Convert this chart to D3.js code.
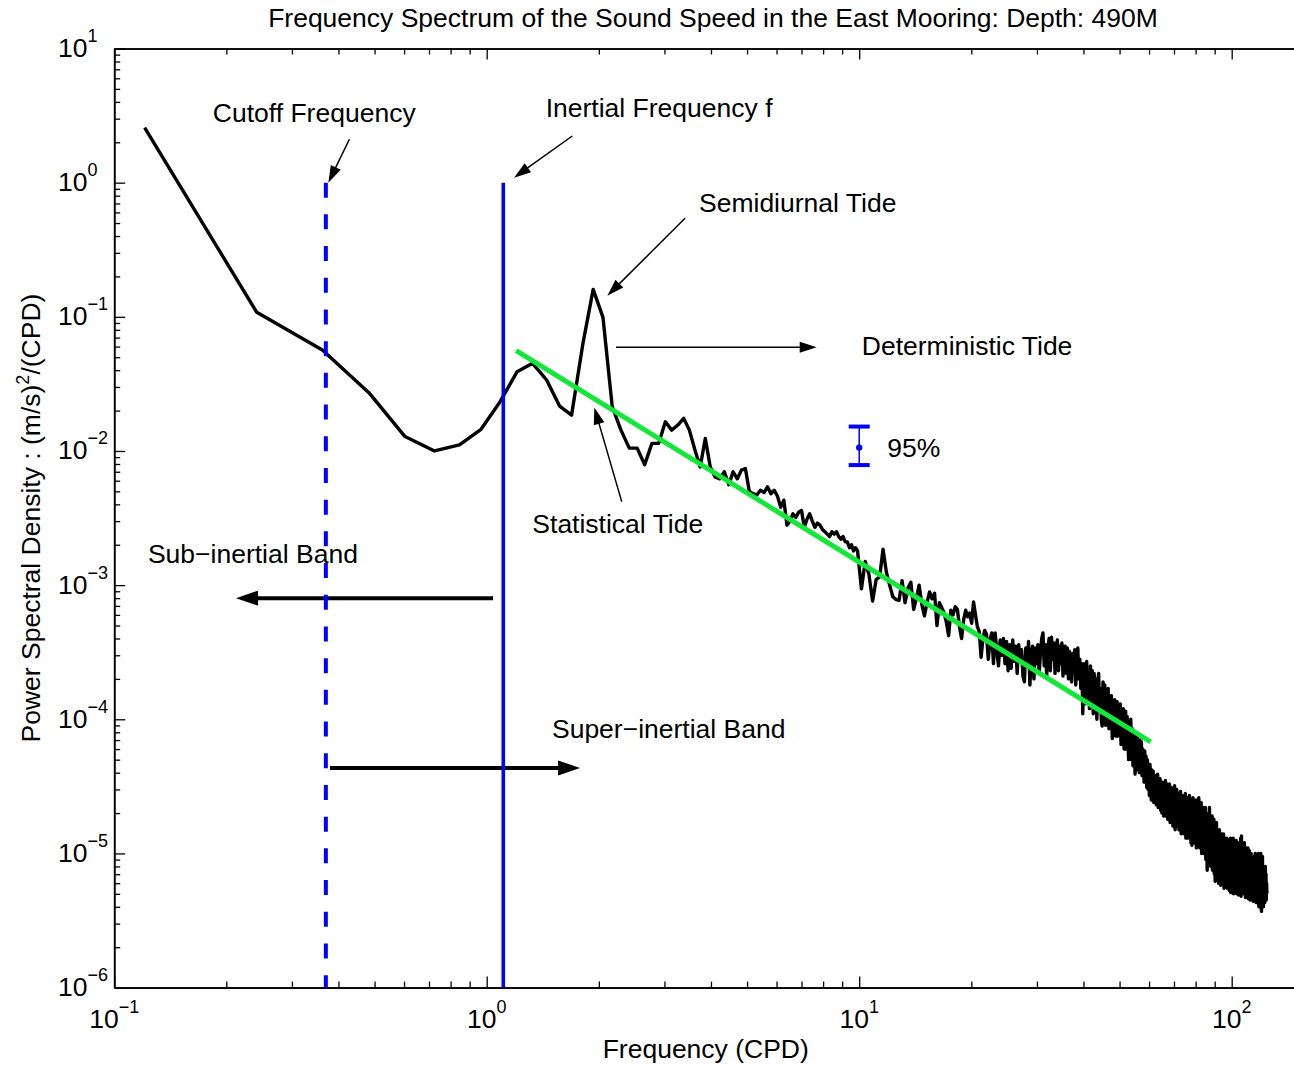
<!DOCTYPE html>
<html><head><meta charset="utf-8">
<script src="https://cdn.jsdelivr.net/npm/d3@7"></script>
<style>
body{margin:0;background:#fff}
text{font-family:"Liberation Sans",Arial,Helvetica,sans-serif;fill:#000}
</style>
</head><body>
<svg id="c" width="1294" height="1067"></svg>
<script>
// ---------- DATA ----------
const df = 0.1207; // frequency resolution (CPD)
// spectral estimates at n*df, n = 1..81
const psdLow = [2.57,0.108,0.0566,0.0272,0.0128,0.0100,0.0111,0.0145,0.0233,0.039,
0.045,0.0338,0.0216,0.0185,0.062,0.160,0.099,0.0214,0.0143,0.0105,
0.0105,0.0079,0.0114,0.0114,0.0165,0.0143,0.0156,0.0175,0.0143,0.0102,
0.0076,0.0124,0.0076,0.0064,0.0062,0.0070,0.0056,0.0070,0.0062,0.0072,
0.0074,0.0050,0.0048,0.0047,0.0051,0.0049,0.0054,0.0048,0.0051,0.0046,
0.0038,0.0043,0.0028,0.0030,0.0034,0.0032,0.0035,0.0036,0.0027,0.0031,
0.0034,0.0030,0.0027,0.0029,0.0028,0.0026,0.0025,0.0024,0.0023,0.0025,
0.0024,0.0025,0.0023,0.0022,0.0023,0.0021,0.0021,0.0019,0.0020,0.0018,
0.0019];
// spectral estimates at n*df, n = 82,84,86,... (10 to 30 CPD)
const psd10to30 = [1.8e-3,9.4e-4,1.5e-3,1.2e-3,7.6e-4,1.1e-3,1.15e-3,1.85e-3,1.25e-3,1.0e-3,
8.2e-4,7.8e-4,7.7e-4,1.08e-3,7.4e-4,9.5e-4,1.05e-3,6.6e-4,8.0e-4,1.0e-3,
7.2e-4,5.9e-4,7.4e-4,8.9e-4,7.9e-4,8.7e-4,5.0e-4,7.4e-4,6.8e-4,6.2e-4,
5.3e-4,4.2e-4,6.5e-4,6.0e-4,6.9e-4,6.6e-4,4.9e-4,4.0e-4,5.5e-4,6.5e-4,
5.8e-4,6.2e-4,5.2e-4,7.5e-4,6.0e-4,4.9e-4,4.5e-4,2.9e-4,4.0e-4,4.6e-4,
4.3e-4,2.8e-4,3.9e-4,4.4e-4,2.6e-4,4.4e-4,3.2e-4,2.5e-4,3.9e-4,3.0e-4,
4.0e-4,2.6e-4,3.8e-4,2.3e-4,3.6e-4,2.4e-4,3.9e-4,2.7e-4,3.5e-4,2.2e-4,
3.6e-4,2.8e-4,3.3e-4,2.1e-4,1.9e-4,3.4e-4,2.5e-4,3.8e-4,1.8e-4,3.1e-4,
3.5e-4,2.0e-4,3.4e-4,2.6e-4];
// 30 to 60 CPD
const psd30to60 = [3.6e-4,2.2e-4,3.1e-4,4.0e-4,4.4e-4,2.5e-4,3.6e-4,2.1e-4,3.4e-4,4.0e-4,
2.3e-4,4.1e-4,2.8e-4,3.7e-4,2.2e-4,3.4e-4,3.9e-4,2.3e-4,3.5e-4,2.6e-4,
3.7e-4,2.1e-4,3.1e-4,3.5e-4,2.2e-4,3.4e-4,2.0e-4,3.2e-4,2.7e-4,1.9e-4,
3.1e-4,2.4e-4,3.3e-4,1.8e-4,2.9e-4,3.4e-4,2.0e-4,2.8e-4,1.7e-4,2.6e-4,
1.1e-4,
2.6e-4,1.3e-4,2.2e-4,2.7e-4,1.4e-4,2.0e-4,1.2e-4,2.5e-4,1.6e-4,2.3e-4,
1.1e-4,2.2e-4,1.5e-4,2.0e-4,1.0e-4,1.9e-4,2.2e-4,1.2e-4,1.7e-4,1.0e-4,
8.9e-5,1.9e-4,1.3e-4,1.8e-4,9.0e-5,1.6e-4,1.1e-4,1.7e-4,8.5e-5,1.5e-4,
1.0e-4,1.5e-4,7.2e-5,1.3e-4,9.0e-5,1.4e-4,7.5e-5,1.2e-4,1.35e-4,7.5e-5,
1.2e-4,9.0e-5,1.3e-4,6.5e-5,1.1e-4,8.0e-5,1.2e-4,6.0e-5,1.0e-4,1.15e-4,
6.0e-5,1.05e-4,8.0e-5,5.0e-5,9.5e-5,7.0e-5,1.0e-4,5.0e-5,8.5e-5,4.5e-5,
8.0e-5,6.0e-5,3.9e-5,7.5e-5,5.5e-5,7.8e-5,4.2e-5,6.5e-5,4.0e-5,7.0e-5,
5.0e-5,6.8e-5,3.8e-5,6.0e-5,4.5e-5,3.4e-5,5.8e-5,4.0e-5,5.3e-5,3.1e-5,
5.0e-5,3.0e-5,4.5e-5];
// 60 to 100 CPD
const psd60to100 = [2.7e-5,4.6e-5,3.3e-5,2.5e-5,4.2e-5,3.0e-5,4.1e-5,2.4e-5,3.6e-5,2.6e-5,
3.8e-5,2.3e-5,3.3e-5,3.9e-5,2.2e-5,3.5e-5,2.6e-5,3.6e-5,2.1e-5,3.2e-5,
2.0e-5,3.4e-5,2.5e-5,1.9e-5,3.2e-5,2.4e-5,3.5e-5,1.9e-5,2.8e-5,3.3e-5,
1.8e-5,3.0e-5,2.2e-5,3.3e-5,1.7e-5,2.7e-5,3.1e-5,1.8e-5,2.5e-5,1.6e-5,
2.9e-5,2.0e-5,3.2e-5,1.5e-5,2.6e-5,1.9e-5,3.0e-5,1.6e-5,2.4e-5,2.8e-5,
1.5e-5,2.6e-5,1.8e-5,2.9e-5,1.4e-5,2.3e-5,2.7e-5,1.5e-5,2.2e-5,1.4e-5,
2.6e-5,1.8e-5,2.8e-5,1.3e-5,2.2e-5,1.6e-5,2.6e-5,1.3e-5,2.4e-5,1.7e-5,
2.7e-5,1.5e-5,2.3e-5,1.2e-5,2.5e-5,1.15e-5,2.0e-5,2.6e-5,1.3e-5,2.2e-5,
1.2e-5,2.4e-5,1.6e-5,2.5e-5,1.1e-5,2.0e-5,1.4e-5,2.4e-5,1.2e-5,2.6e-5,
1.6e-5,1.1e-5,2.3e-5,1.3e-5,2.4e-5,1.0e-5,1.9e-5,1.2e-5,2.2e-5,1.5e-5,
1.0e-5,2.1e-5,1.3e-5,2.2e-5,9.0e-6,1.8e-5,1.2e-5,7.5e-6,1.9e-5,1.1e-5,
2.0e-5,8.5e-6,2.2e-5,1.2e-5,1.8e-5,8.0e-6,1.6e-5,1.0e-5,1.9e-5,7.5e-6,
1.6e-5,1.0e-5,1.8e-5,7.0e-6,1.4e-5,6.2e-6,1.5e-5,9.0e-6,1.7e-5,6.5e-6,
1.3e-5,8.0e-6,1.5e-5,6.0e-6,1.2e-5,1.5e-5,7.0e-6,1.1e-5,5.8e-6,1.3e-5,
8.0e-6,1.4e-5,6.0e-6,1.2e-5,9.0e-6,1.4e-5,5.5e-6,1.1e-5,7.0e-6,1.3e-5,
6.0e-6,1.2e-5,8.0e-6,1.3e-5,5.5e-6,1.0e-5,1.25e-5,6.0e-6,1.1e-5,5.3e-6,
1.2e-5,7.0e-6,1.3e-5,5.1e-6,9.5e-6,1.25e-5];
// 100 to 124 CPD
const psd100to124 = [6.0e-6,1.2e-5,8.0e-6,1.3e-5,5.0e-6,1.0e-5,6.5e-6,1.2e-5,5.5e-6,1.1e-5,
7.0e-6,1.25e-5,5.0e-6,9.5e-6,1.2e-5,6.0e-6,1.1e-5,4.9e-6,8.5e-6,1.2e-5,
5.5e-6,1.1e-5,7.0e-6,1.3e-5,4.8e-6,1.35e-5,8.0e-6,5.5e-6,1.15e-5,6.5e-6,
1.1e-5,5.0e-6,9.0e-6,1.2e-5,5.5e-6,1.0e-5,4.7e-6,8.5e-6,1.1e-5,6.0e-6,
1.0e-5,5.0e-6,8.0e-6,1.1e-5,4.6e-6,9.0e-6,6.0e-6,1.05e-5,5.0e-6,4.5e-6,
9.5e-6,6.0e-6,1.0e-5,4.6e-6,8.0e-6,9.5e-6,5.0e-6,7.5e-6,4.4e-6,9.0e-6,
5.5e-6,9.5e-6,4.5e-6,8.0e-6,1.0e-5,5.0e-6,7.0e-6,4.3e-6,9.0e-6,6.0e-6,
9.5e-6,4.5e-6,7.5e-6,1.0e-5,5.0e-6,4.0e-6,8.5e-6,6.0e-6,9.5e-6,4.5e-6,
7.0e-6,1.0e-5,4.2e-6,3.7e-6,9.0e-6,5.5e-6,9.5e-6,4.5e-6,8.0e-6,4.0e-6,
8.0e-6,5.0e-6,7.5e-6,4.3e-6,6.5e-6,8.0e-6,4.6e-6,7.0e-6,4.5e-6,6.0e-6,5.0e-6];

// power-law fit (green)
const fitFreq = [1.2, 60.6];
const fitPsd = [0.056, 6.8e-5];
// reference frequencies
const cutoffFreq = 0.37;
const inertialFreq = 1.108;
const refLineTop = 1;
// 95% confidence bar
const ciFreq = 10.0, ciLow = 0.00785, ciMid = 0.0106, ciHigh = 0.0152;
// ticks
const xTickExps = [-1, 0, 1, 2];
const yTickExps = [1, 0, -1, -2, -3, -4, -5, -6];
// text labels (data coords of left baseline)
const labels = [
  {t:"Cutoff Frequency", f:0.184, v:2.85},
  {t:"Inertial Frequency f", f:1.44, v:3.07},
  {t:"Semidiurnal Tide", f:3.715, v:0.607},
  {t:"Deterministic Tide", f:10.16, v:0.0519},
  {t:"Statistical Tide", f:1.326, v:0.00243},
  {t:"95%", f:11.9, v:0.00906},
  {t:"Sub\u2212inertial Band", f:0.1232, v:0.00146},
  {t:"Super\u2212inertial Band", f:1.497, v:7.24e-5}
];
// arrows (tail -> tip), data coords
const thinArrows = [
  {f0:0.428, v0:2.105, f1:0.3757, v1:1.0},
  {f0:1.697, v0:2.227, f1:1.184, v1:1.089},
  {f0:3.408, v0:0.542, f1:2.108, v1:0.1437},
  {f0:2.224, v0:0.0593, f1:7.69, v1:0.0593},
  {f0:2.304, v0:0.00419, f1:1.945, v1:0.0211}
];
const thickArrows = [
  {f0:1.04, v0:8.0e-4, f1:0.2123, v1:8.0e-4},
  {f0:0.3796, v0:4.34e-5, f1:1.781, v1:4.34e-5}
];

// ---------- CHART ----------
const svg = d3.select("#c");
const L = 114.2, T = 48.5, B = 987.6, dec = 372.5;
const x = d3.scaleLog().domain([0.1, 150]).range([L, L + dec*Math.log10(1500)]);
const y = d3.scaleLog().domain([1e-6, 10]).range([B, T]);
const R = x.range()[1];
const FS = 26.5, SUP = 18;

const spectrum = [
  ...psdLow.map((v,i)=>({f:(i+1)*df, v})),
  ...[...psd10to30, ...psd30to60, ...psd60to100, ...psd100to124].map((v,j)=>({f:(82+2*j)*df, v}))
];

// axes ticks
const xMajor = xTickExps.map(e=>Math.pow(10,e));
const xMinor = [];
for (let e=-1;e<=2;e++) for (let m=2;m<=9;m++){const v=m*Math.pow(10,e); if(v<150) xMinor.push(v);}
const yMajor = yTickExps.map(e=>Math.pow(10,e));
const yMinor = [];
for (let e=-6;e<=0;e++) for (let m=2;m<=9;m++) yMinor.push(m*Math.pow(10,e));

function styleAxis(g){ g.selectAll("path.domain").attr("stroke","#000").attr("stroke-width",1.6);
  g.selectAll(".tick line").attr("stroke","#000").attr("stroke-width",1.3); g.selectAll(".tick text").remove(); }

const axG = svg.append("g");
[[d3.axisBottom(x), `translate(0,${B})`, xMajor, xMinor],
 [d3.axisTop(x), `translate(0,${T})`, xMajor, xMinor],
 [d3.axisLeft(y), `translate(${L},0)`, yMajor, yMinor]].forEach(([ax, tr, maj, min])=>{
  axG.append("g").attr("transform",tr).call(ax.tickValues(min).tickSize(-6).tickSizeOuter(0).tickFormat("")).call(styleAxis);
  axG.append("g").attr("transform",tr).call(ax.tickValues(maj).tickSize(-11).tickSizeOuter(0).tickFormat("")).call(styleAxis);
});

// tick labels
xTickExps.forEach(e=>{
  const t = svg.append("text").attr("x", x(Math.pow(10,e))).attr("y", 1028)
    .attr("text-anchor","middle").attr("font-size",FS);
  t.append("tspan").text("10");
  t.append("tspan").attr("dy",-15).attr("font-size",SUP).text(String(e).replace("-","\u2212"));
});
yTickExps.forEach(e=>{
  const t = svg.append("text").attr("x", 58).attr("y", y(Math.pow(10,e))+8.5)
    .attr("text-anchor","start").attr("font-size",FS);
  t.append("tspan").text("10");
  t.append("tspan").attr("dy",-15).attr("font-size",SUP).text(String(e).replace("-","\u2212"));
});

// title & axis labels
svg.append("text").attr("x",713).attr("y",27).attr("text-anchor","middle").attr("font-size",FS)
  .text("Frequency Spectrum of the Sound Speed in the East Mooring: Depth: 490M");
svg.append("text").attr("x",(L+R)/2).attr("y",1058).attr("text-anchor","middle").attr("font-size",FS)
  .text("Frequency (CPD)");
const yl = svg.append("text").attr("transform",`translate(40,${(T+B)/2}) rotate(-90)`)
  .attr("text-anchor","middle").attr("font-size",FS);
yl.append("tspan").text("Power Spectral Density : (m/s)");
yl.append("tspan").attr("dy",-11).attr("font-size",SUP).text("2");
yl.append("tspan").attr("dy",11).text("/(CPD)");

// spectrum
const line = d3.line().x(d=>x(d.f)).y(d=>y(d.v));
svg.append("path").datum(spectrum).attr("d",line).attr("fill","none")
  .attr("stroke","#000").attr("stroke-width",3.4).attr("stroke-linejoin","round");

// fit line
svg.append("path").datum(fitFreq.map((f,i)=>({f, v:fitPsd[i]}))).attr("d",line)
  .attr("fill","none").attr("stroke","#13e83a").attr("stroke-width",5);

// arrows
function arrow(a, w, hl, hw){
  const x0=x(a.f0), y0=y(a.v0), x1=x(a.f1), y1=y(a.v1);
  const ang=Math.atan2(y1-y0,x1-x0), c=Math.cos(ang), s=Math.sin(ang);
  const bx=x1-hl*c, by=y1-hl*s;
  svg.append("line").attr("x1",x0).attr("y1",y0).attr("x2",bx+2*c).attr("y2",by+2*s)
    .attr("stroke","#000").attr("stroke-width",w);
  svg.append("polygon").attr("fill","#000").attr("points",
    [[x1,y1],[bx - hw/2*s, by + hw/2*c],[bx + hw/2*s, by - hw/2*c]].map(p=>p.join(",")).join(" "));
}
thinArrows.forEach(a=>arrow(a,1.5,17,11));
thickArrows.forEach(a=>arrow(a,4,22,15));

// reference lines
svg.append("line").attr("x1",x(cutoffFreq)).attr("x2",x(cutoffFreq)).attr("y1",y(refLineTop)).attr("y2",B)
  .attr("stroke","#0000ff").attr("stroke-width",4).attr("stroke-dasharray","15,16.7");
svg.append("line").attr("x1",x(inertialFreq)).attr("x2",x(inertialFreq)).attr("y1",y(refLineTop)).attr("y2",B)
  .attr("stroke","#0000ff").attr("stroke-width",3.6);

// confidence bar
const cx = x(ciFreq);
svg.append("line").attr("x1",cx).attr("x2",cx).attr("y1",y(ciHigh)).attr("y2",y(ciLow))
  .attr("stroke","#0000ff").attr("stroke-width",1.5);
[ciHigh, ciLow].forEach(v=>svg.append("line").attr("x1",cx-10.5).attr("x2",cx+10.5)
  .attr("y1",y(v)).attr("y2",y(v)).attr("stroke","#0000ff").attr("stroke-width",4));
svg.append("circle").attr("cx",cx).attr("cy",y(ciMid)).attr("r",3.2).attr("fill","#0000ff");

// labels
labels.forEach(l=>svg.append("text").attr("x",x(l.f)).attr("y",y(l.v)).attr("font-size",FS).text(l.t));
</script>
</body></html>
